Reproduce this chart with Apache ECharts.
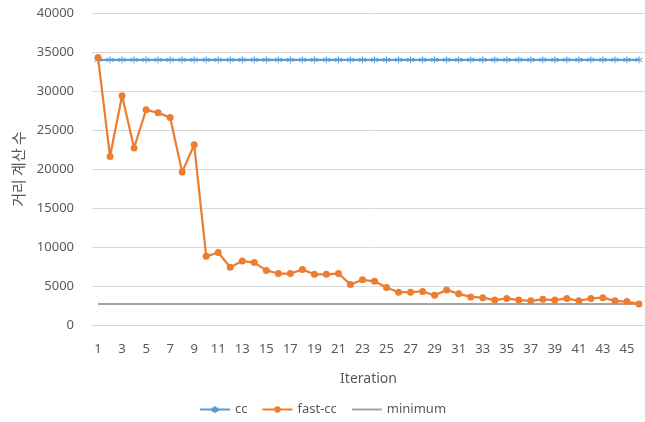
<!DOCTYPE html>
<html>
<head>
<meta charset="utf-8">
<script src="https://cdn.jsdelivr.net/npm/echarts@6/dist/echarts.min.js"></script>
<style>
  html, body { margin: 0; padding: 0; background: #fff; }
  #chart { width: 645px; height: 422px; }
</style>
</head>
<body>
<div id="chart"></div>
<script>
// Iterations 1..46
const iterations = Array.from({ length: 46 }, (_, i) => String(i + 1));

// Distance computations per iteration
const ccValues = [
  34000, 34000, 34000, 34000, 34000, 34000, 34000, 34000, 34000, 34000,
  34000, 34000, 34000, 34000, 34000, 34000, 34000, 34000, 34000, 34000,
  34000, 34000, 34000, 34000, 34000, 34000, 34000, 34000, 34000, 34000,
  34000, 34000, 34000, 34000, 34000, 34000, 34000, 34000, 34000, 34000,
  34000, 34000, 34000, 34000, 34000, 34000
];
const fastCcValues = [
  34300, 21600, 29400, 22700, 27600, 27200, 26600, 19600, 23100, 8800,
  9300, 7400, 8200, 8000, 7000, 6600, 6600, 7100, 6500, 6500,
  6600, 5200, 5800, 5600, 4800, 4200, 4200, 4300, 3800, 4500,
  4000, 3600, 3500, 3200, 3400, 3200, 3100, 3300, 3200, 3400,
  3100, 3400, 3500, 3100, 3000, 2700
];
const minimumValues = [
  2700, 2700, 2700, 2700, 2700, 2700, 2700, 2700, 2700, 2700,
  2700, 2700, 2700, 2700, 2700, 2700, 2700, 2700, 2700, 2700,
  2700, 2700, 2700, 2700, 2700, 2700, 2700, 2700, 2700, 2700,
  2700, 2700, 2700, 2700, 2700, 2700, 2700, 2700, 2700, 2700,
  2700, 2700, 2700, 2700, 2700, 2700
];

const yMin = 0, yMax = 40000, yStep = 5000;

const textColor = '#595959';
const fontFamily = '"Noto Sans", "Noto Sans CJK KR", sans-serif';
const asterisk = 'path://M0,-5L0,5M-4.33,-2.5L4.33,2.5M-4.33,2.5L4.33,-2.5';

const chart = echarts.init(document.getElementById('chart'));
chart.setOption({
  animation: false,
  backgroundColor: '#fff',
  textStyle: { fontFamily: fontFamily, color: textColor },
  grid: { left: 92, right: 0, top: 13, bottom: 97, containLabel: false },
  legend: {
    bottom: 1,
    left: 'center',
    itemWidth: 30,
    itemHeight: 8,
    itemGap: 14,
    textStyle: { color: textColor, fontSize: 13, fontFamily: fontFamily },
    data: [
      'cc',
      'fast-cc',
      { name: 'minimum', itemStyle: { opacity: 0 } }
    ]
  },
  xAxis: {
    type: 'category',
    data: iterations,
    boundaryGap: true,
    name: 'Iteration',
    nameLocation: 'middle',
    nameGap: 47,
    nameTextStyle: { color: textColor, fontSize: 14, fontFamily: fontFamily },
    axisLine: { lineStyle: { color: '#D9D9D9' } },
    axisTick: { show: false },
    axisLabel: { interval: 1, color: textColor, fontSize: 13, margin: 18 }
  },
  yAxis: {
    type: 'value',
    min: yMin,
    max: yMax,
    interval: yStep,
    name: '거리 계산 수',
    nameLocation: 'middle',
    nameGap: 66,
    nameRotate: 90,
    nameTextStyle: { color: textColor, fontSize: 15, fontFamily: '"Noto Sans CJK KR", sans-serif' },
    axisLine: { show: false },
    axisTick: { show: false },
    axisLabel: { color: textColor, fontSize: 13, margin: 18, formatter: v => String(v) },
    splitLine: { lineStyle: { color: '#D9D9D9', width: 1 } }
  },
  series: [
    {
      name: 'cc',
      type: 'line',
      data: ccValues,
      symbol: asterisk,
      symbolSize: 7,
      lineStyle: { color: '#5B9BD5', width: 2.25 },
      itemStyle: { color: '#5B9BD5', borderColor: '#5B9BD5', borderWidth: 1 },
      z: 2
    },
    {
      name: 'fast-cc',
      type: 'line',
      data: fastCcValues,
      symbol: 'circle',
      symbolSize: 7,
      lineStyle: { color: '#ED7D31', width: 2.25 },
      itemStyle: { color: '#ED7D31' },
      z: 4
    },
    {
      name: 'minimum',
      type: 'line',
      data: minimumValues,
      symbol: 'none',
      lineStyle: { color: '#A5A5A5', width: 2 },
      itemStyle: { color: '#A5A5A5' },
      z: 3
    }
  ]
});
</script>
</body>
</html>
